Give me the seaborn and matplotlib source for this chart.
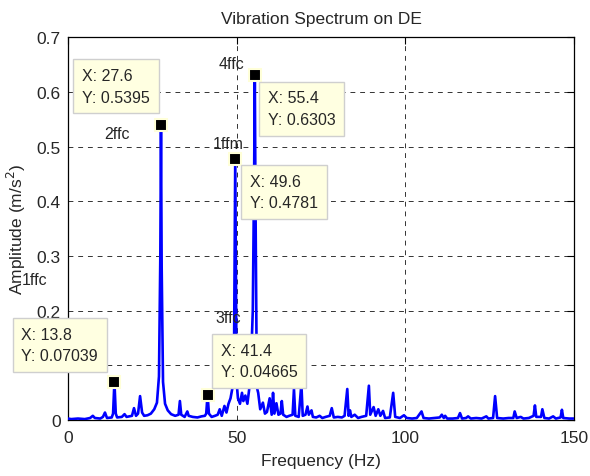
import numpy as np
import pandas as pd
import matplotlib
matplotlib.use("Agg")
import matplotlib.pyplot as plt
import seaborn as sns
from matplotlib.ticker import FuncFormatter

# spectrum (Hz, m/s^2)
freq = [0.0, 1.0, 3.0, 5.0, 6.6, 7.4, 8.0, 9.6, 10.4, 11.0, 11.6, 13.0, 13.4, 13.8, 14.2, 14.6,
        16.0, 16.8, 17.4, 19.0, 19.6, 20.2, 20.8, 21.4, 22.0, 22.6, 23.6, 24.6, 25.6, 26.4, 27.0,
        27.4, 27.6, 27.8, 28.2, 28.8, 29.6, 30.6, 31.8, 32.8, 33.2, 33.6, 34.6, 35.4, 35.8, 37.0,
        38.4, 39.6, 40.6, 41.0, 41.4, 41.8, 42.6, 43.6, 44.4, 45.0, 45.6, 46.4, 47.0, 47.6, 48.2,
        48.8, 49.2, 49.6, 50.0, 50.4, 51.0, 51.6, 52.0, 52.6, 53.2, 53.8, 54.2, 54.8, 55.2, 55.4,
        55.6, 56.0, 56.4, 57.0, 57.8, 58.4, 59.0, 59.8, 60.4, 60.8, 61.2, 61.8, 62.4, 63.0, 63.4,
        63.8, 64.8, 65.6, 66.6, 67.0, 67.4, 68.4, 69.2, 69.6, 70.4, 71.0, 71.4, 72.2, 72.6, 73.6,
        74.6, 75.4, 76.4, 77.6, 78.2, 78.8, 80.0, 81.2, 82.0, 82.8, 83.2, 83.6, 84.0, 85.0, 86.0,
        87.0, 88.4, 89.2, 89.6, 90.6, 91.2, 92.0, 92.6, 93.4, 94.0, 95.4, 96.4, 97.0, 98.4, 99.6,
        100.4, 102.0, 103.4, 104.8, 105.4, 107.0, 108.6, 110.2, 110.8, 111.4, 111.8, 112.4, 114.0,
        115.6, 116.2, 116.8, 118.0, 118.6, 119.4, 121.0, 122.6, 124.0, 124.6, 126.0, 126.6, 127.2,
        129.0, 130.6, 132.0, 132.4, 133.0, 134.2, 135.0, 136.6, 138.0, 138.4, 138.8, 140.2, 140.6,
        141.2, 142.6, 143.8, 144.6, 146.0, 146.4, 146.8, 148.6, 150.0]
amp = [0.003, 0.002, 0.003, 0.002, 0.004, 0.008, 0.004, 0.003, 0.006, 0.014, 0.004, 0.005, 0.012,
       0.0704, 0.012, 0.005, 0.006, 0.011, 0.006, 0.008, 0.022, 0.008, 0.012, 0.044, 0.014, 0.008,
       0.009, 0.012, 0.020, 0.032, 0.080, 0.30, 0.5395, 0.28, 0.07, 0.030, 0.018, 0.011, 0.008,
       0.010, 0.035, 0.010, 0.006, 0.016, 0.008, 0.006, 0.005, 0.007, 0.008, 0.012, 0.0467, 0.012,
       0.006, 0.008, 0.010, 0.020, 0.008, 0.026, 0.014, 0.030, 0.040, 0.060, 0.080, 0.4781, 0.070,
       0.040, 0.030, 0.050, 0.035, 0.045, 0.030, 0.060, 0.090, 0.20, 0.45, 0.6303, 0.40, 0.06,
       0.050, 0.020, 0.032, 0.012, 0.015, 0.040, 0.010, 0.050, 0.012, 0.031, 0.010, 0.012, 0.035,
       0.010, 0.006, 0.008, 0.010, 0.057, 0.008, 0.006, 0.066, 0.008, 0.010, 0.025, 0.010, 0.018,
       0.006, 0.005, 0.008, 0.004, 0.006, 0.008, 0.022, 0.005, 0.006, 0.005, 0.008, 0.057, 0.008,
       0.018, 0.006, 0.010, 0.004, 0.006, 0.008, 0.063, 0.010, 0.024, 0.008, 0.020, 0.008, 0.017,
       0.004, 0.005, 0.050, 0.006, 0.004, 0.009, 0.004, 0.003, 0.004, 0.016, 0.004, 0.003, 0.004,
       0.005, 0.010, 0.004, 0.008, 0.003, 0.003, 0.004, 0.013, 0.003, 0.004, 0.007, 0.003, 0.004,
       0.003, 0.007, 0.003, 0.004, 0.044, 0.004, 0.003, 0.004, 0.004, 0.016, 0.004, 0.006, 0.003,
       0.004, 0.008, 0.027, 0.006, 0.006, 0.020, 0.004, 0.003, 0.007, 0.003, 0.005, 0.019, 0.004,
       0.003, 0.003]

# data tips
tip_x = [13.8, 27.6, 41.4, 49.6, 55.4]
tip_y = [0.07039, 0.5395, 0.04665, 0.4781, 0.6303]
tip_off = [(-93, 55), (-79, 57), (13, 52), (15, -15), (13, -15)]  # pixels from point

# fault labels
lab_text = ["1ffc", "2ffc", "3ffc", "1ffm", "4ffc"]
lab_x = [-10.0, 14.5, 47.6, 47.6, 48.4]
lab_y = [0.258, 0.524, 0.188, 0.506, 0.652]

sns.set_style("white")
plt.rcParams['font.family'] = ['Liberation Sans', 'DejaVu Sans']

fig = plt.figure(figsize=(5.9, 4.77), dpi=100)
ax = fig.add_axes([0.115, 0.117, 0.858, 0.803])

df = pd.DataFrame({'f': freq, 'a': amp})
sns.lineplot(data=df, x='f', y='a', ax=ax, color='#0000FF', linewidth=1.9,
             estimator=None, sort=False, zorder=3)

ax.set_xlim(0, 150)
ax.set_ylim(0, 0.7)
ax.set_xticks([0, 50, 100, 150])
ax.set_yticks(np.arange(0, 0.71, 0.1))
ax.yaxis.set_major_formatter(FuncFormatter(lambda v, p: f"{v:g}"))
ax.tick_params(direction='in', length=5, width=0.8, labelsize=12.5, top=True, right=True,
               color='black')
ax.tick_params(axis='x', pad=7)
ax.tick_params(axis='y', pad=5)
for s in ax.spines.values():
    s.set_color('black')
    s.set_linewidth(0.9)
ax.grid(True, color='black', linestyle=(0, (5, 5)), linewidth=0.7, alpha=0.8)

ax.set_title("Vibration Spectrum on DE", fontsize=12.5, pad=10)
ax.set_xlabel("Frequency (Hz)", fontsize=12.5, labelpad=6)
ax.set_ylabel("Amplitude (m/s$^2$)", fontsize=12.5, labelpad=6)

for x, y, off in zip(tip_x, tip_y, tip_off):
    ax.plot([x], [y], marker='s', markersize=9, color='black', markeredgecolor='#FFFFD8',
            markeredgewidth=1.5, zorder=6, clip_on=False)
    ax.annotate(f"X: {x:g}\nY: {y:g}", xy=(x, y), xytext=off, textcoords='offset pixels',
                ha='left', va='top', fontsize=11.5, linespacing=1.55, zorder=7,
                annotation_clip=False,
                bbox=dict(boxstyle='square,pad=0.55', facecolor='#FFFFE1', edgecolor='#CFCFCF',
                          linewidth=1.0))

for t, x, y in zip(lab_text, lab_x, lab_y):
    ax.text(x, y, t, ha='center', va='center', fontsize=11.5, zorder=5, clip_on=False)

fig.savefig("out.png", dpi=100)
